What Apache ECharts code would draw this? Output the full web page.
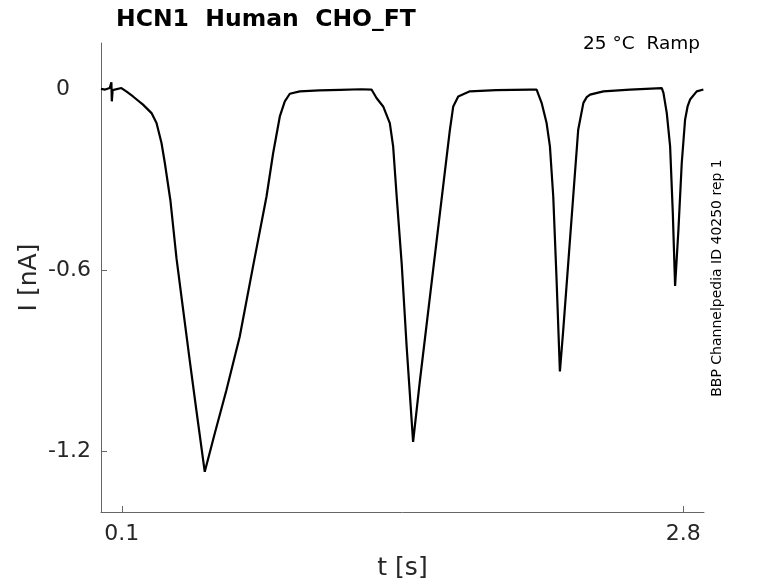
<!DOCTYPE html>
<html>
<head>
<meta charset="utf-8">
<script src="https://cdn.jsdelivr.net/npm/echarts@6/dist/echarts.min.js"></script>
<style>
html,body{margin:0;padding:0;background:#fff;}
#chart{width:778px;height:583px;}
</style>
</head>
<body>
<div id="chart"></div>
<script>
// Trace: time (s) and current (nA)
var time = [
  0, 0.020, 0.042, 0.047, 0.050, 0.052, 0.056, 0.062, 0.098, 0.125, 0.154, 0.202, 0.243, 0.267,
  0.291, 0.307, 0.334, 0.363, 0.395, 0.427, 0.459, 0.499, 0.547, 0.603, 0.667, 0.731, 0.796,
  0.828, 0.860, 0.884, 0.908, 0.956, 1.050, 1.150, 1.250, 1.301, 1.325, 1.357, 1.389, 1.405,
  1.422, 1.446, 1.470, 1.501, 1.534, 1.582, 1.630, 1.678, 1.694, 1.718, 1.774, 1.900, 2.063,
  2.095, 2.119, 2.143, 2.159, 2.175, 2.191, 2.207, 2.223, 2.247, 2.271, 2.295, 2.320, 2.336, 2.352,
  2.416, 2.544, 2.697, 2.705, 2.721, 2.737, 2.750, 2.761, 2.777, 2.793, 2.809, 2.821, 2.833, 2.865, 2.897
];
var current = [
  0, -0.002, 0.003, 0.000, 0.022, -0.041, -0.004, 0.002, 0.003, -0.010, -0.025, -0.052, -0.080, -0.113,
  -0.179, -0.245, -0.370, -0.560, -0.730, -0.900, -1.065, -1.267, -1.140, -0.997, -0.820, -0.588, -0.356,
  -0.212, -0.091, -0.041, -0.016, -0.008, -0.005, -0.003, -0.001, -0.002, -0.030, -0.058, -0.113, -0.190,
  -0.356, -0.577, -0.853, -1.168, -0.964, -0.687, -0.411, -0.135, -0.058, -0.025, -0.008, -0.004, -0.002,
  -0.002, -0.046, -0.113, -0.190, -0.356, -0.632, -0.935, -0.798, -0.577, -0.356, -0.135, -0.046, -0.027, -0.019,
  -0.008, -0.002, 0.003, -0.013, -0.080, -0.190, -0.411, -0.652, -0.466, -0.245, -0.102, -0.058, -0.035, -0.008, -0.002
];
var xTicks = [0.1, 2.8];
var yTicks = [-1.2, -0.6, 0];
var titleText = 'HCN1  Human  CHO_FT';
var subTitleText = '25 °C  Ramp';
var sideText = 'BBP Channelpedia ID 40250 rep 1';
var xName = 't [s]';
var yName = 'I [nA]';

var points = time.map(function (t, i) { return [t, current[i]]; });

var chart = echarts.init(document.getElementById('chart'));
var font = 'DejaVu Sans';
chart.setOption({
  animation: false,
  backgroundColor: '#fff',
  title: [
    { text: titleText, left: 111, top: 3,
      textStyle: { fontFamily: font, fontSize: 23.5, fontWeight: 'bold', color: '#000' } },
    { text: subTitleText, right: 73, top: 30,
      textStyle: { fontFamily: font, fontSize: 18.5, fontWeight: 'normal', color: '#000' } }
  ],
  grid: { left: 101, right: 74, top: 43, bottom: 71, containLabel: false, outerBoundsMode: 'none' },
  xAxis: {
    type: 'value', min: 0, max: 2.9,
    name: xName, nameLocation: 'middle', nameGap: 44, nameMoveOverlap: false,
    nameTextStyle: { fontFamily: font, fontSize: 25, color: '#262626' },
    axisLine: { show: true, onZero: false, lineStyle: { color: '#666', width: 1 } },
    axisTick: { show: true, inside: true, length: 6, customValues: xTicks, lineStyle: { color: '#666' } },
    axisLabel: { customValues: xTicks, fontFamily: font, fontSize: 22, color: '#262626', margin: 11 },
    splitLine: { show: false }
  },
  yAxis: {
    type: 'value', min: -1.4, max: 0.152,
    name: yName, nameLocation: 'middle', nameGap: 59, nameRotate: 90, nameMoveOverlap: false,
    nameTextStyle: { fontFamily: font, fontSize: 25, color: '#262626' },
    axisLine: { show: true, onZero: false, lineStyle: { color: '#666', width: 1 } },
    axisTick: { show: true, inside: true, length: 6, customValues: yTicks, lineStyle: { color: '#666' } },
    axisLabel: {
      customValues: yTicks, fontFamily: font, fontSize: 22, color: '#262626', margin: 10,
      formatter: function (v) { return v === 0 ? '0\u00a0\u00a0\u00a0' : String(v); }
    },
    splitLine: { show: false }
  },
  graphic: [
    { type: 'text', x: 717, y: 278, rotation: Math.PI / 2,
      style: { text: sideText, fontFamily: font, fontSize: 14, fill: '#000',
               align: 'center', verticalAlign: 'middle' } }
  ],
  series: [{
    type: 'line', data: points, showSymbol: false, symbol: 'none',
    lineStyle: { color: '#000', width: 2.2 }, clip: true
  }]
});
</script>
</body>
</html>
